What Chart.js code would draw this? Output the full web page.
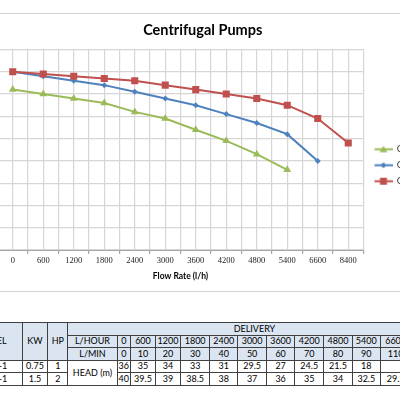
<!DOCTYPE html>
<html>
<head>
<meta charset="utf-8">
<script src="https://cdn.jsdelivr.net/npm/chart.js@4.4.1/dist/chart.umd.min.js"></script>
<style>
  html, body { margin: 0; padding: 0; background: #fff; width: 400px; height: 400px; overflow: hidden; position: relative; }
  #frame { position: absolute; left: -5px; top: 13px; width: 410px; height: 277px; border: 1px solid #d4d4d4; }
  #chart { position: absolute; left: -10px; top: 0; }
  #spec { position: absolute; left: -41.7px; top: 322px; width: 482px; border-collapse: collapse; table-layout: fixed;
          font-family: Lato, "Noto Sans", sans-serif; font-size: 9px; color: #000; }
  #spec td { border: 1px solid #404040; padding: 0; height: 11.5px; line-height: 10px; text-align: center; white-space: nowrap; overflow: hidden; }
  #spec td.hd { background: #dbe5f1; }
</style>
</head>
<body>
<div id="frame"></div>
<canvas id="chart" width="418" height="290"></canvas>
<table id="spec"></table>
<script>
// ---- data ----
const flowLabels = ['0', '600', '1200', '1800', '2400', '3000', '3600', '4200', '4800', '5400', '6600', '8400'];
const lpmLabels = ['0', '10', '20', '30', '40', '50', '60', '70', '80', '90', '110', '140'];
const headGreen = [36, 35, 34, 33, 31, 29.5, 27, 24.5, 21.5, 18];
const headBlue = [40, 39, 38, 37, 35.5, 34, 32.5, 30.5, 28.5, 26, 20];
const headRed = [40, 39.5, 39, 38.5, 38, 37, 36, 35, 34, 32.5, 29.5, 24];
const seriesNames = ['CPS-4-1', 'CPS-6-1', 'CPS-9-1'];
const models = ['CPS-4-1', 'CPS-9-1'];
const kwValues = ['0.75', '1.5'];
const hpValues = ['1', '2'];
const yMax = 45;
const yStep = 5;

const GREEN = '#9bbb59', BLUE = '#4f81bd', RED = '#c0504d';
const GRID = '#d6d6d6';

// legend marks: short line with the marker in the middle
function legendMark(color, shape) {
  const c = document.createElement('canvas');
  c.width = 23; c.height = 9;
  const g = c.getContext('2d');
  g.strokeStyle = color; g.fillStyle = color; g.lineWidth = 2;
  g.beginPath(); g.moveTo(5, 4.5); g.lineTo(23, 4.5); g.stroke();
  const cx = 14, cy = 4.5;
  g.beginPath();
  if (shape === 'triangle') { g.moveTo(cx, cy - 3.5); g.lineTo(cx + 4, cy + 3); g.lineTo(cx - 4, cy + 3); }
  else if (shape === 'rectRot') { g.moveTo(cx, cy - 3); g.lineTo(cx + 3, cy); g.lineTo(cx, cy + 3); g.lineTo(cx - 3, cy); }
  else { g.rect(cx - 3.5, cy - 3.5, 7, 7); }
  g.closePath(); g.fill();
  return c;
}

const toPoints = (arr) => arr.map((y, i) => ({ x: i, y: y }));

// red first so it is drawn on top; legend is reversed back to green, blue, red
const datasets = [
  { label: seriesNames[2], data: toPoints(headRed), borderColor: RED, backgroundColor: RED, pointStyle: 'rect', pointRadius: 5 },
  { label: seriesNames[1], data: toPoints(headBlue), borderColor: BLUE, backgroundColor: BLUE, pointStyle: 'rectRot', pointRadius: 3 },
  { label: seriesNames[0], data: toPoints(headGreen), borderColor: GREEN, backgroundColor: GREEN, pointStyle: 'triangle', pointRadius: 4.5 }
].map(d => Object.assign(d, { borderWidth: 2, pointBorderWidth: 0, tension: 0, fill: false }));

const marks = [legendMark(RED, 'rect'), legendMark(BLUE, 'rectRot'), legendMark(GREEN, 'triangle')];

new Chart(document.getElementById('chart'), {
  type: 'line',
  data: { datasets: datasets },
  options: {
    responsive: false,
    animation: false,
    layout: { padding: { left: 7.5, right: 0, top: 0, bottom: 8.6 } },
    plugins: {
      tooltip: { enabled: false },
      title: {
        display: true, text: 'Centrifugal Pumps', color: '#000',
        font: { family: 'Lato', size: 14.5, weight: 'bold' },
        padding: { top: 21.3, bottom: 10.8 }
      },
      legend: {
        position: 'right', reverse: true, maxWidth: 44.5,
        title: { display: true, text: '', font: { size: 10 }, padding: { top: 18.5, bottom: 18.5 } },
        labels: {
          usePointStyle: true, pointStyleWidth: 22, padding: 6.5, color: '#404040',
          font: { family: 'Lato', size: 9.5 },
          generateLabels(chart) {
            const items = Chart.defaults.plugins.legend.labels.generateLabels(chart);
            items.forEach(it => { it.pointStyle = marks[it.datasetIndex]; });
            return items;
          }
        }
      }
    },
    scales: {
      x: {
        type: 'linear', min: -0.5, max: flowLabels.length - 0.5,
        border: { color: '#a6a6a6', width: 1 },
        grid: {
          color: GRID, lineWidth: 1.2, tickLength: 4,
          tickColor: (c) => Number.isInteger(c.tick.value) ? 'rgba(0,0,0,0)' : '#a6a6a6'
        },
        ticks: {
          stepSize: 0.5, autoSkip: false, maxRotation: 0, padding: 2, color: '#222',
          font: { family: 'Liberation Serif', size: 8.5 },
          callback: (v) => Number.isInteger(v) ? flowLabels[v] : ''
        },
        title: {
          display: true, text: 'Flow Rate (l/h)', color: '#000',
          font: { family: 'Lato', size: 8.5, weight: 'bold' },
          padding: { top: 3, bottom: 0 }
        }
      },
      y: {
        min: 0, max: yMax,
        border: { display: false },
        grid: { color: GRID, lineWidth: 1.2, drawTicks: false },
        ticks: { stepSize: yStep, display: false }
      }
    }
  }
});

// ---- spec table ----
const colWidths = [63.4, 25.6, 20, 49.4, 13.3, 25, 25, 29.3, 28, 28.7, 28.3, 29, 28.4, 28.3, 30.3, 30.3];
const headRows = [headGreen, headRed];
let html = '<colgroup>' + colWidths.map(w => '<col style="width:' + w + 'px">').join('') + '</colgroup>';
html += '<tr><td class="hd" rowspan="3">MODEL</td><td class="hd" rowspan="3">KW</td><td class="hd" rowspan="3">HP</td>' +
        '<td class="hd" colspan="' + (flowLabels.length + 1) + '">DELIVERY</td></tr>';
html += '<tr><td class="hd">L/HOUR</td>' + flowLabels.map(v => '<td class="hd">' + v + '</td>').join('') + '</tr>';
html += '<tr><td class="hd">L/MIN</td>' + lpmLabels.map(v => '<td class="hd">' + v + '</td>').join('') + '</tr>';
headRows.forEach((row, r) => {
  html += '<tr><td>' + models[r] + '</td><td>' + kwValues[r] + '</td><td>' + hpValues[r] + '</td>';
  if (r === 0) html += '<td rowspan="2">HEAD (m)</td>';
  html += flowLabels.map((_, i) => '<td>' + (row[i] !== undefined ? row[i] : '') + '</td>').join('') + '</tr>';
});
document.getElementById('spec').innerHTML = html;
</script>
</body>
</html>
